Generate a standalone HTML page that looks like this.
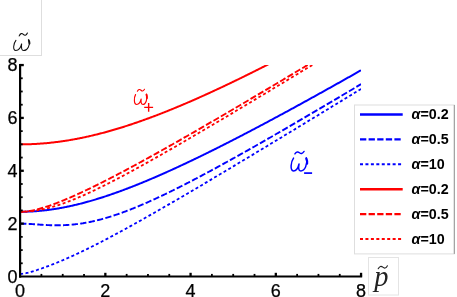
<!DOCTYPE html>
<html><head><meta charset="utf-8"><title>plot</title>
<style>
html,body{margin:0;padding:0;background:#fff;}
body{width:457px;height:297px;position:relative;overflow:hidden;font-family:"Liberation Sans",sans-serif;}
</style></head><body>
<svg width="457" height="297" viewBox="0 0 457 297" style="position:absolute;left:0;top:0;will-change:transform;">
<defs><clipPath id="cp"><rect x="20.10" y="65.06" width="340.96" height="211.44"/></clipPath></defs>
<rect x="-1" y="-1" width="42.5" height="56.5" fill="#fff" stroke="#dedede" stroke-width="1"/>
<rect x="368.5" y="257.5" width="30" height="37.5" fill="#fff" stroke="#e4e4e4" stroke-width="1"/>
<g clip-path="url(#cp)" fill="none" stroke-width="2.0">
<path d="M20.10,211.76 L20.95,211.76 L21.80,211.75 L22.66,211.74 L23.51,211.73 L24.36,211.72 L25.21,211.70 L26.07,211.68 L26.92,211.65 L27.77,211.62 L28.62,211.59 L29.48,211.55 L30.33,211.52 L31.18,211.47 L32.03,211.43 L32.89,211.38 L33.74,211.33 L34.59,211.27 L35.44,211.21 L36.30,211.15 L37.15,211.08 L38.00,211.01 L38.85,210.94 L39.71,210.86 L40.56,210.79 L41.41,210.70 L42.26,210.62 L43.11,210.53 L43.97,210.44 L44.82,210.34 L45.67,210.24 L46.52,210.14 L47.38,210.04 L48.23,209.93 L49.08,209.82 L49.93,209.70 L50.79,209.59 L51.64,209.46 L52.49,209.34 L53.34,209.21 L54.20,209.08 L55.05,208.95 L55.90,208.82 L56.75,208.68 L57.61,208.53 L58.46,208.39 L59.31,208.24 L60.16,208.09 L61.02,207.94 L61.87,207.78 L62.72,207.62 L63.57,207.46 L64.42,207.29 L65.28,207.12 L66.13,206.95 L66.98,206.78 L67.83,206.60 L68.69,206.42 L69.54,206.24 L70.39,206.06 L71.24,205.87 L72.10,205.68 L72.95,205.49 L73.80,205.29 L74.65,205.09 L75.51,204.89 L76.36,204.69 L77.21,204.48 L78.06,204.27 L78.92,204.06 L79.77,203.85 L80.62,203.63 L81.47,203.41 L82.33,203.19 L83.18,202.97 L84.03,202.74 L84.88,202.52 L85.73,202.28 L86.59,202.05 L87.44,201.82 L88.29,201.58 L89.14,201.34 L90.00,201.10 L90.85,200.85 L91.70,200.61 L92.55,200.36 L93.41,200.11 L94.26,199.85 L95.11,199.60 L95.96,199.34 L96.82,199.08 L97.67,198.82 L98.52,198.55 L99.37,198.29 L100.23,198.02 L101.08,197.75 L101.93,197.48 L102.78,197.20 L103.64,196.93 L104.49,196.65 L105.34,196.37 L106.19,196.09 L107.04,195.80 L107.90,195.52 L108.75,195.23 L109.60,194.94 L110.45,194.65 L111.31,194.35 L112.16,194.06 L113.01,193.76 L113.86,193.46 L114.72,193.16 L115.57,192.86 L116.42,192.56 L117.27,192.25 L118.13,191.95 L118.98,191.64 L119.83,191.33 L120.68,191.01 L121.54,190.70 L122.39,190.38 L123.24,190.07 L124.09,189.75 L124.95,189.43 L125.80,189.11 L126.65,188.78 L127.50,188.46 L128.35,188.13 L129.21,187.80 L130.06,187.48 L130.91,187.14 L131.76,186.81 L132.62,186.48 L133.47,186.14 L134.32,185.81 L135.17,185.47 L136.03,185.13 L136.88,184.79 L137.73,184.45 L138.58,184.10 L139.44,183.76 L140.29,183.41 L141.14,183.07 L141.99,182.72 L142.85,182.37 L143.70,182.02 L144.55,181.66 L145.40,181.31 L146.26,180.96 L147.11,180.60 L147.96,180.24 L148.81,179.88 L149.66,179.52 L150.52,179.16 L151.37,178.80 L152.22,178.44 L153.07,178.07 L153.93,177.71 L154.78,177.34 L155.63,176.97 L156.48,176.61 L157.34,176.24 L158.19,175.86 L159.04,175.49 L159.89,175.12 L160.75,174.74 L161.60,174.37 L162.45,173.99 L163.30,173.62 L164.16,173.24 L165.01,172.86 L165.86,172.48 L166.71,172.10 L167.57,171.71 L168.42,171.33 L169.27,170.95 L170.12,170.56 L170.97,170.18 L171.83,169.79 L172.68,169.40 L173.53,169.01 L174.38,168.62 L175.24,168.23 L176.09,167.84 L176.94,167.45 L177.79,167.05 L178.65,166.66 L179.50,166.26 L180.35,165.87 L181.20,165.47 L182.06,165.07 L182.91,164.67 L183.76,164.28 L184.61,163.87 L185.47,163.47 L186.32,163.07 L187.17,162.67 L188.02,162.27 L188.88,161.86 L189.73,161.46 L190.58,161.05 L191.43,160.64 L192.28,160.24 L193.14,159.83 L193.99,159.42 L194.84,159.01 L195.69,158.60 L196.55,158.19 L197.40,157.78 L198.25,157.37 L199.10,156.95 L199.96,156.54 L200.81,156.12 L201.66,155.71 L202.51,155.29 L203.37,154.88 L204.22,154.46 L205.07,154.04 L205.92,153.62 L206.78,153.20 L207.63,152.78 L208.48,152.36 L209.33,151.94 L210.19,151.52 L211.04,151.10 L211.89,150.68 L212.74,150.25 L213.59,149.83 L214.45,149.40 L215.30,148.98 L216.15,148.55 L217.00,148.13 L217.86,147.70 L218.71,147.27 L219.56,146.84 L220.41,146.41 L221.27,145.98 L222.12,145.55 L222.97,145.12 L223.82,144.69 L224.68,144.26 L225.53,143.83 L226.38,143.39 L227.23,142.96 L228.09,142.53 L228.94,142.09 L229.79,141.66 L230.64,141.22 L231.50,140.79 L232.35,140.35 L233.20,139.91 L234.05,139.48 L234.90,139.04 L235.76,138.60 L236.61,138.16 L237.46,137.72 L238.31,137.28 L239.17,136.84 L240.02,136.40 L240.87,135.96 L241.72,135.52 L242.58,135.07 L243.43,134.63 L244.28,134.19 L245.13,133.74 L245.99,133.30 L246.84,132.85 L247.69,132.41 L248.54,131.96 L249.40,131.52 L250.25,131.07 L251.10,130.62 L251.95,130.18 L252.81,129.73 L253.66,129.28 L254.51,128.83 L255.36,128.38 L256.21,127.93 L257.07,127.49 L257.92,127.03 L258.77,126.58 L259.62,126.13 L260.48,125.68 L261.33,125.23 L262.18,124.78 L263.03,124.33 L263.89,123.87 L264.74,123.42 L265.59,122.97 L266.44,122.51 L267.30,122.06 L268.15,121.60 L269.00,121.15 L269.85,120.69 L270.71,120.23 L271.56,119.78 L272.41,119.32 L273.26,118.86 L274.12,118.41 L274.97,117.95 L275.82,117.49 L276.67,117.03 L277.52,116.57 L278.38,116.12 L279.23,115.66 L280.08,115.20 L280.93,114.74 L281.79,114.28 L282.64,113.81 L283.49,113.35 L284.34,112.89 L285.20,112.43 L286.05,111.97 L286.90,111.51 L287.75,111.04 L288.61,110.58 L289.46,110.12 L290.31,109.65 L291.16,109.19 L292.02,108.72 L292.87,108.26 L293.72,107.79 L294.57,107.33 L295.43,106.86 L296.28,106.40 L297.13,105.93 L297.98,105.47 L298.83,105.00 L299.69,104.53 L300.54,104.06 L301.39,103.60 L302.24,103.13 L303.10,102.66 L303.95,102.19 L304.80,101.72 L305.65,101.25 L306.51,100.79 L307.36,100.32 L308.21,99.85 L309.06,99.38 L309.92,98.91 L310.77,98.44 L311.62,97.96 L312.47,97.49 L313.33,97.02 L314.18,96.55 L315.03,96.08 L315.88,95.61 L316.74,95.13 L317.59,94.66 L318.44,94.19 L319.29,93.72 L320.14,93.24 L321.00,92.77 L321.85,92.29 L322.70,91.82 L323.55,91.35 L324.41,90.87 L325.26,90.40 L326.11,89.92 L326.96,89.45 L327.82,88.97 L328.67,88.49 L329.52,88.02 L330.37,87.54 L331.23,87.07 L332.08,86.59 L332.93,86.11 L333.78,85.64 L334.64,85.16 L335.49,84.68 L336.34,84.20 L337.19,83.72 L338.05,83.25 L338.90,82.77 L339.75,82.29 L340.60,81.81 L341.45,81.33 L342.31,80.85 L343.16,80.37 L344.01,79.89 L344.86,79.41 L345.72,78.93 L346.57,78.45 L347.42,77.97 L348.27,77.49 L349.13,77.01 L349.98,76.53 L350.83,76.05 L351.68,75.57 L352.54,75.09 L353.39,74.60 L354.24,74.12 L355.09,73.64 L355.95,73.16 L356.80,72.67 L357.65,72.19 L358.50,71.71 L359.36,71.22 L360.21,70.74 L361.06,70.26" stroke="#0000ff" stroke-width="2.0"/>
<path d="M20.10,223.64 L20.95,223.64 L21.80,223.65 L22.66,223.66 L23.51,223.68 L24.36,223.70 L25.21,223.73 L26.07,223.76 L26.92,223.80 L27.77,223.84 L28.62,223.89 L29.48,223.93 L30.33,223.98 L31.18,224.03 L32.03,224.09 L32.89,224.15 L33.74,224.20 L34.59,224.26 L35.44,224.32 L36.30,224.38 L37.15,224.44 L38.00,224.50 L38.85,224.56 L39.71,224.62 L40.56,224.68 L41.41,224.74 L42.26,224.79 L43.11,224.84 L43.97,224.90 L44.82,224.95 L45.67,224.99 L46.52,225.04 L47.38,225.08 L48.23,225.12 L49.08,225.15 L49.93,225.19 L50.79,225.21 L51.64,225.24 L52.49,225.26 L53.34,225.28 L54.20,225.30 L55.05,225.31 L55.90,225.32 L56.75,225.32 L57.61,225.32 L58.46,225.31 L59.31,225.30 L60.16,225.29 L61.02,225.27 L61.87,225.25 L62.72,225.22 L63.57,225.19 L64.42,225.16 L65.28,225.12 L66.13,225.07 L66.98,225.02 L67.83,224.97 L68.69,224.91 L69.54,224.85 L70.39,224.78 L71.24,224.71 L72.10,224.63 L72.95,224.55 L73.80,224.46 L74.65,224.37 L75.51,224.28 L76.36,224.18 L77.21,224.07 L78.06,223.96 L78.92,223.85 L79.77,223.73 L80.62,223.60 L81.47,223.48 L82.33,223.34 L83.18,223.21 L84.03,223.06 L84.88,222.92 L85.73,222.77 L86.59,222.61 L87.44,222.45 L88.29,222.29 L89.14,222.12 L90.00,221.95 L90.85,221.77 L91.70,221.59 L92.55,221.40 L93.41,221.21 L94.26,221.02 L95.11,220.82 L95.96,220.62 L96.82,220.41 L97.67,220.20 L98.52,219.99 L99.37,219.77 L100.23,219.55 L101.08,219.32 L101.93,219.09 L102.78,218.86 L103.64,218.62 L104.49,218.38 L105.34,218.13 L106.19,217.88 L107.04,217.63 L107.90,217.38 L108.75,217.12 L109.60,216.86 L110.45,216.59 L111.31,216.32 L112.16,216.05 L113.01,215.77 L113.86,215.49 L114.72,215.21 L115.57,214.93 L116.42,214.64 L117.27,214.35 L118.13,214.05 L118.98,213.76 L119.83,213.45 L120.68,213.15 L121.54,212.85 L122.39,212.54 L123.24,212.22 L124.09,211.91 L124.95,211.59 L125.80,211.27 L126.65,210.95 L127.50,210.63 L128.35,210.30 L129.21,209.97 L130.06,209.63 L130.91,209.30 L131.76,208.96 L132.62,208.62 L133.47,208.28 L134.32,207.94 L135.17,207.59 L136.03,207.24 L136.88,206.89 L137.73,206.53 L138.58,206.18 L139.44,205.82 L140.29,205.46 L141.14,205.10 L141.99,204.73 L142.85,204.37 L143.70,204.00 L144.55,203.63 L145.40,203.26 L146.26,202.89 L147.11,202.51 L147.96,202.13 L148.81,201.75 L149.66,201.37 L150.52,200.99 L151.37,200.61 L152.22,200.22 L153.07,199.83 L153.93,199.44 L154.78,199.05 L155.63,198.66 L156.48,198.26 L157.34,197.87 L158.19,197.47 L159.04,197.07 L159.89,196.67 L160.75,196.27 L161.60,195.87 L162.45,195.46 L163.30,195.06 L164.16,194.65 L165.01,194.24 L165.86,193.83 L166.71,193.42 L167.57,193.01 L168.42,192.59 L169.27,192.18 L170.12,191.76 L170.97,191.34 L171.83,190.92 L172.68,190.50 L173.53,190.08 L174.38,189.66 L175.24,189.24 L176.09,188.81 L176.94,188.39 L177.79,187.96 L178.65,187.53 L179.50,187.10 L180.35,186.67 L181.20,186.24 L182.06,185.81 L182.91,185.37 L183.76,184.94 L184.61,184.51 L185.47,184.07 L186.32,183.63 L187.17,183.19 L188.02,182.76 L188.88,182.32 L189.73,181.88 L190.58,181.43 L191.43,180.99 L192.28,180.55 L193.14,180.10 L193.99,179.66 L194.84,179.21 L195.69,178.77 L196.55,178.32 L197.40,177.87 L198.25,177.42 L199.10,176.97 L199.96,176.52 L200.81,176.07 L201.66,175.62 L202.51,175.17 L203.37,174.71 L204.22,174.26 L205.07,173.80 L205.92,173.35 L206.78,172.89 L207.63,172.43 L208.48,171.98 L209.33,171.52 L210.19,171.06 L211.04,170.60 L211.89,170.14 L212.74,169.68 L213.59,169.22 L214.45,168.75 L215.30,168.29 L216.15,167.83 L217.00,167.36 L217.86,166.90 L218.71,166.44 L219.56,165.97 L220.41,165.50 L221.27,165.04 L222.12,164.57 L222.97,164.10 L223.82,163.63 L224.68,163.16 L225.53,162.70 L226.38,162.23 L227.23,161.76 L228.09,161.28 L228.94,160.81 L229.79,160.34 L230.64,159.87 L231.50,159.40 L232.35,158.92 L233.20,158.45 L234.05,157.97 L234.90,157.50 L235.76,157.02 L236.61,156.55 L237.46,156.07 L238.31,155.60 L239.17,155.12 L240.02,154.64 L240.87,154.17 L241.72,153.69 L242.58,153.21 L243.43,152.73 L244.28,152.25 L245.13,151.77 L245.99,151.29 L246.84,150.81 L247.69,150.33 L248.54,149.85 L249.40,149.37 L250.25,148.88 L251.10,148.40 L251.95,147.92 L252.81,147.44 L253.66,146.95 L254.51,146.47 L255.36,145.99 L256.21,145.50 L257.07,145.02 L257.92,144.53 L258.77,144.05 L259.62,143.56 L260.48,143.07 L261.33,142.59 L262.18,142.10 L263.03,141.61 L263.89,141.13 L264.74,140.64 L265.59,140.15 L266.44,139.66 L267.30,139.17 L268.15,138.68 L269.00,138.20 L269.85,137.71 L270.71,137.22 L271.56,136.73 L272.41,136.24 L273.26,135.75 L274.12,135.25 L274.97,134.76 L275.82,134.27 L276.67,133.78 L277.52,133.29 L278.38,132.80 L279.23,132.30 L280.08,131.81 L280.93,131.32 L281.79,130.83 L282.64,130.33 L283.49,129.84 L284.34,129.34 L285.20,128.85 L286.05,128.36 L286.90,127.86 L287.75,127.37 L288.61,126.87 L289.46,126.38 L290.31,125.88 L291.16,125.39 L292.02,124.89 L292.87,124.39 L293.72,123.90 L294.57,123.40 L295.43,122.90 L296.28,122.41 L297.13,121.91 L297.98,121.41 L298.83,120.91 L299.69,120.42 L300.54,119.92 L301.39,119.42 L302.24,118.92 L303.10,118.42 L303.95,117.92 L304.80,117.43 L305.65,116.93 L306.51,116.43 L307.36,115.93 L308.21,115.43 L309.06,114.93 L309.92,114.43 L310.77,113.93 L311.62,113.43 L312.47,112.93 L313.33,112.43 L314.18,111.92 L315.03,111.42 L315.88,110.92 L316.74,110.42 L317.59,109.92 L318.44,109.42 L319.29,108.91 L320.14,108.41 L321.00,107.91 L321.85,107.41 L322.70,106.90 L323.55,106.40 L324.41,105.90 L325.26,105.40 L326.11,104.89 L326.96,104.39 L327.82,103.89 L328.67,103.38 L329.52,102.88 L330.37,102.37 L331.23,101.87 L332.08,101.37 L332.93,100.86 L333.78,100.36 L334.64,99.85 L335.49,99.35 L336.34,98.84 L337.19,98.34 L338.05,97.83 L338.90,97.33 L339.75,96.82 L340.60,96.32 L341.45,95.81 L342.31,95.30 L343.16,94.80 L344.01,94.29 L344.86,93.79 L345.72,93.28 L346.57,92.77 L347.42,92.27 L348.27,91.76 L349.13,91.25 L349.98,90.75 L350.83,90.24 L351.68,89.73 L352.54,89.22 L353.39,88.72 L354.24,88.21 L355.09,87.70 L355.95,87.19 L356.80,86.68 L357.65,86.18 L358.50,85.67 L359.36,85.16 L360.21,84.65 L361.06,84.14" stroke="#0000ff" stroke-width="1.9" stroke-dasharray="6.3 2.3"/>
<path d="M20.10,273.86 L20.95,273.84 L21.80,273.79 L22.66,273.72 L23.51,273.61 L24.36,273.48 L25.21,273.33 L26.07,273.16 L26.92,272.97 L27.77,272.77 L28.62,272.56 L29.48,272.34 L30.33,272.10 L31.18,271.86 L32.03,271.61 L32.89,271.36 L33.74,271.10 L34.59,270.83 L35.44,270.56 L36.30,270.29 L37.15,270.01 L38.00,269.72 L38.85,269.44 L39.71,269.15 L40.56,268.85 L41.41,268.56 L42.26,268.26 L43.11,267.95 L43.97,267.65 L44.82,267.34 L45.67,267.03 L46.52,266.71 L47.38,266.39 L48.23,266.07 L49.08,265.75 L49.93,265.42 L50.79,265.10 L51.64,264.76 L52.49,264.43 L53.34,264.09 L54.20,263.76 L55.05,263.42 L55.90,263.07 L56.75,262.73 L57.61,262.38 L58.46,262.03 L59.31,261.67 L60.16,261.32 L61.02,260.96 L61.87,260.60 L62.72,260.24 L63.57,259.87 L64.42,259.50 L65.28,259.13 L66.13,258.76 L66.98,258.39 L67.83,258.01 L68.69,257.63 L69.54,257.25 L70.39,256.87 L71.24,256.49 L72.10,256.10 L72.95,255.71 L73.80,255.32 L74.65,254.93 L75.51,254.53 L76.36,254.14 L77.21,253.74 L78.06,253.34 L78.92,252.94 L79.77,252.53 L80.62,252.13 L81.47,251.72 L82.33,251.31 L83.18,250.90 L84.03,250.49 L84.88,250.08 L85.73,249.66 L86.59,249.25 L87.44,248.83 L88.29,248.41 L89.14,247.99 L90.00,247.56 L90.85,247.14 L91.70,246.71 L92.55,246.28 L93.41,245.86 L94.26,245.43 L95.11,244.99 L95.96,244.56 L96.82,244.13 L97.67,243.69 L98.52,243.26 L99.37,242.82 L100.23,242.38 L101.08,241.94 L101.93,241.50 L102.78,241.06 L103.64,240.61 L104.49,240.17 L105.34,239.72 L106.19,239.27 L107.04,238.83 L107.90,238.38 L108.75,237.93 L109.60,237.48 L110.45,237.02 L111.31,236.57 L112.16,236.12 L113.01,235.66 L113.86,235.21 L114.72,234.75 L115.57,234.29 L116.42,233.83 L117.27,233.37 L118.13,232.91 L118.98,232.45 L119.83,231.99 L120.68,231.53 L121.54,231.06 L122.39,230.60 L123.24,230.13 L124.09,229.67 L124.95,229.20 L125.80,228.73 L126.65,228.26 L127.50,227.79 L128.35,227.32 L129.21,226.85 L130.06,226.38 L130.91,225.91 L131.76,225.44 L132.62,224.97 L133.47,224.49 L134.32,224.02 L135.17,223.54 L136.03,223.07 L136.88,222.59 L137.73,222.11 L138.58,221.64 L139.44,221.16 L140.29,220.68 L141.14,220.20 L141.99,219.72 L142.85,219.24 L143.70,218.76 L144.55,218.28 L145.40,217.80 L146.26,217.32 L147.11,216.83 L147.96,216.35 L148.81,215.87 L149.66,215.38 L150.52,214.90 L151.37,214.41 L152.22,213.93 L153.07,213.44 L153.93,212.95 L154.78,212.47 L155.63,211.98 L156.48,211.49 L157.34,211.00 L158.19,210.52 L159.04,210.03 L159.89,209.54 L160.75,209.05 L161.60,208.56 L162.45,208.07 L163.30,207.58 L164.16,207.08 L165.01,206.59 L165.86,206.10 L166.71,205.61 L167.57,205.12 L168.42,204.62 L169.27,204.13 L170.12,203.64 L170.97,203.14 L171.83,202.65 L172.68,202.15 L173.53,201.66 L174.38,201.16 L175.24,200.67 L176.09,200.17 L176.94,199.67 L177.79,199.18 L178.65,198.68 L179.50,198.18 L180.35,197.69 L181.20,197.19 L182.06,196.69 L182.91,196.19 L183.76,195.69 L184.61,195.19 L185.47,194.69 L186.32,194.19 L187.17,193.70 L188.02,193.20 L188.88,192.69 L189.73,192.19 L190.58,191.69 L191.43,191.19 L192.28,190.69 L193.14,190.19 L193.99,189.69 L194.84,189.19 L195.69,188.68 L196.55,188.18 L197.40,187.68 L198.25,187.18 L199.10,186.67 L199.96,186.17 L200.81,185.67 L201.66,185.16 L202.51,184.66 L203.37,184.16 L204.22,183.65 L205.07,183.15 L205.92,182.64 L206.78,182.14 L207.63,181.63 L208.48,181.13 L209.33,180.62 L210.19,180.12 L211.04,179.61 L211.89,179.10 L212.74,178.60 L213.59,178.09 L214.45,177.59 L215.30,177.08 L216.15,176.57 L217.00,176.06 L217.86,175.56 L218.71,175.05 L219.56,174.54 L220.41,174.04 L221.27,173.53 L222.12,173.02 L222.97,172.51 L223.82,172.00 L224.68,171.49 L225.53,170.99 L226.38,170.48 L227.23,169.97 L228.09,169.46 L228.94,168.95 L229.79,168.44 L230.64,167.93 L231.50,167.42 L232.35,166.91 L233.20,166.40 L234.05,165.89 L234.90,165.38 L235.76,164.87 L236.61,164.36 L237.46,163.85 L238.31,163.34 L239.17,162.83 L240.02,162.32 L240.87,161.81 L241.72,161.30 L242.58,160.78 L243.43,160.27 L244.28,159.76 L245.13,159.25 L245.99,158.74 L246.84,158.23 L247.69,157.71 L248.54,157.20 L249.40,156.69 L250.25,156.18 L251.10,155.66 L251.95,155.15 L252.81,154.64 L253.66,154.13 L254.51,153.61 L255.36,153.10 L256.21,152.59 L257.07,152.07 L257.92,151.56 L258.77,151.05 L259.62,150.53 L260.48,150.02 L261.33,149.51 L262.18,148.99 L263.03,148.48 L263.89,147.96 L264.74,147.45 L265.59,146.94 L266.44,146.42 L267.30,145.91 L268.15,145.39 L269.00,144.88 L269.85,144.36 L270.71,143.85 L271.56,143.33 L272.41,142.82 L273.26,142.30 L274.12,141.79 L274.97,141.27 L275.82,140.76 L276.67,140.24 L277.52,139.73 L278.38,139.21 L279.23,138.70 L280.08,138.18 L280.93,137.66 L281.79,137.15 L282.64,136.63 L283.49,136.12 L284.34,135.60 L285.20,135.08 L286.05,134.57 L286.90,134.05 L287.75,133.54 L288.61,133.02 L289.46,132.50 L290.31,131.99 L291.16,131.47 L292.02,130.95 L292.87,130.44 L293.72,129.92 L294.57,129.40 L295.43,128.88 L296.28,128.37 L297.13,127.85 L297.98,127.33 L298.83,126.82 L299.69,126.30 L300.54,125.78 L301.39,125.26 L302.24,124.75 L303.10,124.23 L303.95,123.71 L304.80,123.19 L305.65,122.68 L306.51,122.16 L307.36,121.64 L308.21,121.12 L309.06,120.60 L309.92,120.09 L310.77,119.57 L311.62,119.05 L312.47,118.53 L313.33,118.01 L314.18,117.49 L315.03,116.98 L315.88,116.46 L316.74,115.94 L317.59,115.42 L318.44,114.90 L319.29,114.38 L320.14,113.86 L321.00,113.35 L321.85,112.83 L322.70,112.31 L323.55,111.79 L324.41,111.27 L325.26,110.75 L326.11,110.23 L326.96,109.71 L327.82,109.19 L328.67,108.67 L329.52,108.15 L330.37,107.64 L331.23,107.12 L332.08,106.60 L332.93,106.08 L333.78,105.56 L334.64,105.04 L335.49,104.52 L336.34,104.00 L337.19,103.48 L338.05,102.96 L338.90,102.44 L339.75,101.92 L340.60,101.40 L341.45,100.88 L342.31,100.36 L343.16,99.84 L344.01,99.32 L344.86,98.80 L345.72,98.28 L346.57,97.76 L347.42,97.24 L348.27,96.72 L349.13,96.20 L349.98,95.68 L350.83,95.16 L351.68,94.64 L352.54,94.12 L353.39,93.60 L354.24,93.07 L355.09,92.55 L355.95,92.03 L356.80,91.51 L357.65,90.99 L358.50,90.47 L359.36,89.95 L360.21,89.43 L361.06,88.91" stroke="#0000ff" stroke-width="1.8" stroke-dasharray="3.0 2.44"/>
<path d="M20.10,144.35 L20.95,144.35 L21.80,144.34 L22.66,144.34 L23.51,144.33 L24.36,144.32 L25.21,144.30 L26.07,144.29 L26.92,144.27 L27.77,144.25 L28.62,144.22 L29.48,144.20 L30.33,144.17 L31.18,144.13 L32.03,144.10 L32.89,144.06 L33.74,144.02 L34.59,143.98 L35.44,143.94 L36.30,143.89 L37.15,143.84 L38.00,143.79 L38.85,143.73 L39.71,143.68 L40.56,143.62 L41.41,143.55 L42.26,143.49 L43.11,143.42 L43.97,143.35 L44.82,143.28 L45.67,143.20 L46.52,143.13 L47.38,143.05 L48.23,142.96 L49.08,142.88 L49.93,142.79 L50.79,142.70 L51.64,142.61 L52.49,142.52 L53.34,142.42 L54.20,142.32 L55.05,142.22 L55.90,142.11 L56.75,142.01 L57.61,141.90 L58.46,141.79 L59.31,141.67 L60.16,141.56 L61.02,141.44 L61.87,141.32 L62.72,141.19 L63.57,141.07 L64.42,140.94 L65.28,140.81 L66.13,140.68 L66.98,140.54 L67.83,140.40 L68.69,140.27 L69.54,140.12 L70.39,139.98 L71.24,139.83 L72.10,139.68 L72.95,139.53 L73.80,139.38 L74.65,139.22 L75.51,139.07 L76.36,138.91 L77.21,138.74 L78.06,138.58 L78.92,138.41 L79.77,138.24 L80.62,138.07 L81.47,137.90 L82.33,137.72 L83.18,137.55 L84.03,137.37 L84.88,137.18 L85.73,137.00 L86.59,136.81 L87.44,136.63 L88.29,136.43 L89.14,136.24 L90.00,136.05 L90.85,135.85 L91.70,135.65 L92.55,135.45 L93.41,135.25 L94.26,135.04 L95.11,134.84 L95.96,134.63 L96.82,134.42 L97.67,134.20 L98.52,133.99 L99.37,133.77 L100.23,133.55 L101.08,133.33 L101.93,133.11 L102.78,132.89 L103.64,132.66 L104.49,132.43 L105.34,132.20 L106.19,131.97 L107.04,131.74 L107.90,131.50 L108.75,131.26 L109.60,131.02 L110.45,130.78 L111.31,130.54 L112.16,130.29 L113.01,130.05 L113.86,129.80 L114.72,129.55 L115.57,129.29 L116.42,129.04 L117.27,128.78 L118.13,128.53 L118.98,128.27 L119.83,128.01 L120.68,127.74 L121.54,127.48 L122.39,127.21 L123.24,126.95 L124.09,126.68 L124.95,126.41 L125.80,126.13 L126.65,125.86 L127.50,125.58 L128.35,125.31 L129.21,125.03 L130.06,124.75 L130.91,124.46 L131.76,124.18 L132.62,123.89 L133.47,123.61 L134.32,123.32 L135.17,123.03 L136.03,122.74 L136.88,122.44 L137.73,122.15 L138.58,121.85 L139.44,121.56 L140.29,121.26 L141.14,120.96 L141.99,120.66 L142.85,120.35 L143.70,120.05 L144.55,119.74 L145.40,119.43 L146.26,119.12 L147.11,118.81 L147.96,118.50 L148.81,118.19 L149.66,117.87 L150.52,117.56 L151.37,117.24 L152.22,116.92 L153.07,116.60 L153.93,116.28 L154.78,115.96 L155.63,115.64 L156.48,115.31 L157.34,114.98 L158.19,114.66 L159.04,114.33 L159.89,114.00 L160.75,113.67 L161.60,113.33 L162.45,113.00 L163.30,112.66 L164.16,112.33 L165.01,111.99 L165.86,111.65 L166.71,111.31 L167.57,110.97 L168.42,110.63 L169.27,110.28 L170.12,109.94 L170.97,109.59 L171.83,109.25 L172.68,108.90 L173.53,108.55 L174.38,108.20 L175.24,107.85 L176.09,107.50 L176.94,107.14 L177.79,106.79 L178.65,106.43 L179.50,106.07 L180.35,105.72 L181.20,105.36 L182.06,105.00 L182.91,104.64 L183.76,104.28 L184.61,103.91 L185.47,103.55 L186.32,103.18 L187.17,102.82 L188.02,102.45 L188.88,102.08 L189.73,101.71 L190.58,101.34 L191.43,100.97 L192.28,100.60 L193.14,100.23 L193.99,99.85 L194.84,99.48 L195.69,99.10 L196.55,98.73 L197.40,98.35 L198.25,97.97 L199.10,97.59 L199.96,97.21 L200.81,96.83 L201.66,96.45 L202.51,96.07 L203.37,95.68 L204.22,95.30 L205.07,94.91 L205.92,94.53 L206.78,94.14 L207.63,93.75 L208.48,93.36 L209.33,92.97 L210.19,92.58 L211.04,92.19 L211.89,91.80 L212.74,91.41 L213.59,91.01 L214.45,90.62 L215.30,90.22 L216.15,89.83 L217.00,89.43 L217.86,89.03 L218.71,88.64 L219.56,88.24 L220.41,87.84 L221.27,87.44 L222.12,87.03 L222.97,86.63 L223.82,86.23 L224.68,85.83 L225.53,85.42 L226.38,85.02 L227.23,84.61 L228.09,84.21 L228.94,83.80 L229.79,83.39 L230.64,82.98 L231.50,82.57 L232.35,82.16 L233.20,81.75 L234.05,81.34 L234.90,80.93 L235.76,80.52 L236.61,80.11 L237.46,79.69 L238.31,79.28 L239.17,78.86 L240.02,78.45 L240.87,78.03 L241.72,77.61 L242.58,77.20 L243.43,76.78 L244.28,76.36 L245.13,75.94 L245.99,75.52 L246.84,75.10 L247.69,74.68 L248.54,74.26 L249.40,73.84 L250.25,73.41 L251.10,72.99 L251.95,72.56 L252.81,72.14 L253.66,71.72 L254.51,71.29 L255.36,70.86 L256.21,70.44 L257.07,70.01 L257.92,69.58 L258.77,69.15 L259.62,68.72 L260.48,68.29 L261.33,67.86 L262.18,67.43 L263.03,67.00 L263.89,66.57 L264.74,66.14 L265.59,65.71 L266.44,65.27 L267.30,64.84 L268.15,64.41 L269.00,63.97 L269.85,63.54 L270.71,63.10 L271.56,62.66 L272.41,62.23 L273.26,61.79 L274.12,61.35 L274.97,60.91 L275.82,60.48 L276.67,60.04 L277.52,59.60 L278.38,59.16 L279.23,58.72 L280.08,58.28 L280.93,57.84 L281.79,57.39 L282.64,56.95 L283.49,56.51 L284.34,56.07 L285.20,55.62 L286.05,55.18 L286.90,54.73 L287.75,54.29 L288.61,53.84 L289.46,53.40 L290.31,52.95 L291.16,52.51 L292.02,52.06 L292.87,51.61 L293.72,51.16 L294.57,50.72 L295.43,50.27 L296.28,49.82 L297.13,49.37 L297.98,48.92 L298.83,48.47 L299.69,48.02 L300.54,47.57 L301.39,47.12 L302.24,46.67 L303.10,46.21 L303.95,45.76 L304.80,45.31 L305.65,44.86 L306.51,44.40 L307.36,43.95 L308.21,43.49 L309.06,43.04 L309.92,42.58 L310.77,42.13 L311.62,41.67 L312.47,41.22 L313.33,40.76 L314.18,40.30 L315.03,39.85 L315.88,39.39 L316.74,38.93 L317.59,38.47 L318.44,38.02 L319.29,37.56 L320.14,37.10 L321.00,36.64 L321.85,36.18 L322.70,35.72 L323.55,35.26 L324.41,34.80 L325.26,34.34 L326.11,33.88 L326.96,33.41 L327.82,32.95 L328.67,32.49 L329.52,32.03 L330.37,31.56 L331.23,31.10 L332.08,30.64 L332.93,30.17 L333.78,29.71 L334.64,29.25 L335.49,28.78 L336.34,28.32 L337.19,27.85 L338.05,27.39 L338.90,26.92 L339.75,26.45 L340.60,25.99 L341.45,25.52 L342.31,25.05 L343.16,24.59 L344.01,24.12 L344.86,23.65 L345.72,23.18 L346.57,22.71 L347.42,22.25 L348.27,21.78 L349.13,21.31 L349.98,20.84 L350.83,20.37 L351.68,19.90 L352.54,19.43 L353.39,18.96 L354.24,18.49 L355.09,18.02 L355.95,17.55 L356.80,17.07 L357.65,16.60 L358.50,16.13 L359.36,15.66 L360.21,15.19 L361.06,14.71" stroke="#ff0000" stroke-width="2.0"/>
<path d="M20.10,211.76 L20.95,211.75 L21.80,211.73 L22.66,211.70 L23.51,211.66 L24.36,211.60 L25.21,211.53 L26.07,211.45 L26.92,211.35 L27.77,211.25 L28.62,211.13 L29.48,211.00 L30.33,210.87 L31.18,210.72 L32.03,210.56 L32.89,210.39 L33.74,210.22 L34.59,210.03 L35.44,209.84 L36.30,209.63 L37.15,209.42 L38.00,209.21 L38.85,208.98 L39.71,208.75 L40.56,208.51 L41.41,208.27 L42.26,208.02 L43.11,207.76 L43.97,207.50 L44.82,207.24 L45.67,206.96 L46.52,206.69 L47.38,206.40 L48.23,206.12 L49.08,205.83 L49.93,205.53 L50.79,205.23 L51.64,204.93 L52.49,204.62 L53.34,204.30 L54.20,203.99 L55.05,203.67 L55.90,203.35 L56.75,203.02 L57.61,202.69 L58.46,202.36 L59.31,202.02 L60.16,201.68 L61.02,201.34 L61.87,201.00 L62.72,200.65 L63.57,200.30 L64.42,199.95 L65.28,199.59 L66.13,199.23 L66.98,198.87 L67.83,198.51 L68.69,198.14 L69.54,197.78 L70.39,197.41 L71.24,197.03 L72.10,196.66 L72.95,196.28 L73.80,195.90 L74.65,195.52 L75.51,195.14 L76.36,194.76 L77.21,194.37 L78.06,193.98 L78.92,193.59 L79.77,193.20 L80.62,192.81 L81.47,192.41 L82.33,192.01 L83.18,191.62 L84.03,191.22 L84.88,190.81 L85.73,190.41 L86.59,190.01 L87.44,189.60 L88.29,189.19 L89.14,188.78 L90.00,188.37 L90.85,187.96 L91.70,187.54 L92.55,187.13 L93.41,186.71 L94.26,186.29 L95.11,185.88 L95.96,185.46 L96.82,185.03 L97.67,184.61 L98.52,184.19 L99.37,183.76 L100.23,183.34 L101.08,182.91 L101.93,182.48 L102.78,182.05 L103.64,181.62 L104.49,181.19 L105.34,180.76 L106.19,180.32 L107.04,179.89 L107.90,179.45 L108.75,179.01 L109.60,178.58 L110.45,178.14 L111.31,177.70 L112.16,177.26 L113.01,176.81 L113.86,176.37 L114.72,175.93 L115.57,175.48 L116.42,175.04 L117.27,174.59 L118.13,174.15 L118.98,173.70 L119.83,173.25 L120.68,172.80 L121.54,172.35 L122.39,171.90 L123.24,171.45 L124.09,170.99 L124.95,170.54 L125.80,170.09 L126.65,169.63 L127.50,169.18 L128.35,168.72 L129.21,168.26 L130.06,167.81 L130.91,167.35 L131.76,166.89 L132.62,166.43 L133.47,165.97 L134.32,165.51 L135.17,165.05 L136.03,164.59 L136.88,164.12 L137.73,163.66 L138.58,163.20 L139.44,162.73 L140.29,162.27 L141.14,161.80 L141.99,161.34 L142.85,160.87 L143.70,160.40 L144.55,159.93 L145.40,159.47 L146.26,159.00 L147.11,158.53 L147.96,158.06 L148.81,157.59 L149.66,157.12 L150.52,156.64 L151.37,156.17 L152.22,155.70 L153.07,155.23 L153.93,154.75 L154.78,154.28 L155.63,153.81 L156.48,153.33 L157.34,152.86 L158.19,152.38 L159.04,151.90 L159.89,151.43 L160.75,150.95 L161.60,150.47 L162.45,149.99 L163.30,149.52 L164.16,149.04 L165.01,148.56 L165.86,148.08 L166.71,147.60 L167.57,147.12 L168.42,146.64 L169.27,146.16 L170.12,145.68 L170.97,145.19 L171.83,144.71 L172.68,144.23 L173.53,143.75 L174.38,143.26 L175.24,142.78 L176.09,142.29 L176.94,141.81 L177.79,141.33 L178.65,140.84 L179.50,140.36 L180.35,139.87 L181.20,139.38 L182.06,138.90 L182.91,138.41 L183.76,137.92 L184.61,137.44 L185.47,136.95 L186.32,136.46 L187.17,135.97 L188.02,135.48 L188.88,135.00 L189.73,134.51 L190.58,134.02 L191.43,133.53 L192.28,133.04 L193.14,132.55 L193.99,132.06 L194.84,131.57 L195.69,131.08 L196.55,130.58 L197.40,130.09 L198.25,129.60 L199.10,129.11 L199.96,128.62 L200.81,128.12 L201.66,127.63 L202.51,127.14 L203.37,126.64 L204.22,126.15 L205.07,125.66 L205.92,125.16 L206.78,124.67 L207.63,124.17 L208.48,123.68 L209.33,123.18 L210.19,122.69 L211.04,122.19 L211.89,121.70 L212.74,121.20 L213.59,120.71 L214.45,120.21 L215.30,119.71 L216.15,119.22 L217.00,118.72 L217.86,118.22 L218.71,117.72 L219.56,117.23 L220.41,116.73 L221.27,116.23 L222.12,115.73 L222.97,115.23 L223.82,114.74 L224.68,114.24 L225.53,113.74 L226.38,113.24 L227.23,112.74 L228.09,112.24 L228.94,111.74 L229.79,111.24 L230.64,110.74 L231.50,110.24 L232.35,109.74 L233.20,109.24 L234.05,108.74 L234.90,108.24 L235.76,107.73 L236.61,107.23 L237.46,106.73 L238.31,106.23 L239.17,105.73 L240.02,105.23 L240.87,104.72 L241.72,104.22 L242.58,103.72 L243.43,103.22 L244.28,102.71 L245.13,102.21 L245.99,101.71 L246.84,101.20 L247.69,100.70 L248.54,100.20 L249.40,99.69 L250.25,99.19 L251.10,98.69 L251.95,98.18 L252.81,97.68 L253.66,97.17 L254.51,96.67 L255.36,96.16 L256.21,95.66 L257.07,95.15 L257.92,94.65 L258.77,94.14 L259.62,93.64 L260.48,93.13 L261.33,92.63 L262.18,92.12 L263.03,91.62 L263.89,91.11 L264.74,90.60 L265.59,90.10 L266.44,89.59 L267.30,89.08 L268.15,88.58 L269.00,88.07 L269.85,87.56 L270.71,87.06 L271.56,86.55 L272.41,86.04 L273.26,85.53 L274.12,85.03 L274.97,84.52 L275.82,84.01 L276.67,83.50 L277.52,83.00 L278.38,82.49 L279.23,81.98 L280.08,81.47 L280.93,80.96 L281.79,80.45 L282.64,79.95 L283.49,79.44 L284.34,78.93 L285.20,78.42 L286.05,77.91 L286.90,77.40 L287.75,76.89 L288.61,76.38 L289.46,75.87 L290.31,75.36 L291.16,74.85 L292.02,74.34 L292.87,73.83 L293.72,73.32 L294.57,72.81 L295.43,72.30 L296.28,71.79 L297.13,71.28 L297.98,70.77 L298.83,70.26 L299.69,69.75 L300.54,69.24 L301.39,68.73 L302.24,68.22 L303.10,67.71 L303.95,67.20 L304.80,66.69 L305.65,66.17 L306.51,65.66 L307.36,65.15 L308.21,64.64 L309.06,64.13 L309.92,63.62 L310.77,63.10 L311.62,62.59 L312.47,62.08 L313.33,61.57 L314.18,61.06 L315.03,60.54 L315.88,60.03 L316.74,59.52 L317.59,59.01 L318.44,58.50 L319.29,57.98 L320.14,57.47 L321.00,56.96 L321.85,56.44 L322.70,55.93 L323.55,55.42 L324.41,54.91 L325.26,54.39 L326.11,53.88 L326.96,53.37 L327.82,52.85 L328.67,52.34 L329.52,51.83 L330.37,51.31 L331.23,50.80 L332.08,50.29 L332.93,49.77 L333.78,49.26 L334.64,48.74 L335.49,48.23 L336.34,47.72 L337.19,47.20 L338.05,46.69 L338.90,46.17 L339.75,45.66 L340.60,45.15 L341.45,44.63 L342.31,44.12 L343.16,43.60 L344.01,43.09 L344.86,42.57 L345.72,42.06 L346.57,41.54 L347.42,41.03 L348.27,40.51 L349.13,40.00 L349.98,39.48 L350.83,38.97 L351.68,38.45 L352.54,37.94 L353.39,37.42 L354.24,36.91 L355.09,36.39 L355.95,35.88 L356.80,35.36 L357.65,34.85 L358.50,34.33 L359.36,33.81 L360.21,33.30 L361.06,32.78" stroke="#ff0000" stroke-width="1.9" stroke-dasharray="6.3 2.3"/>
<path d="M20.10,211.76 L20.95,211.76 L21.80,211.75 L22.66,211.73 L23.51,211.70 L24.36,211.67 L25.21,211.63 L26.07,211.58 L26.92,211.53 L27.77,211.47 L28.62,211.40 L29.48,211.33 L30.33,211.25 L31.18,211.16 L32.03,211.06 L32.89,210.96 L33.74,210.85 L34.59,210.73 L35.44,210.61 L36.30,210.48 L37.15,210.35 L38.00,210.20 L38.85,210.05 L39.71,209.90 L40.56,209.74 L41.41,209.57 L42.26,209.40 L43.11,209.22 L43.97,209.03 L44.82,208.84 L45.67,208.64 L46.52,208.44 L47.38,208.23 L48.23,208.02 L49.08,207.80 L49.93,207.57 L50.79,207.34 L51.64,207.11 L52.49,206.87 L53.34,206.62 L54.20,206.37 L55.05,206.11 L55.90,205.85 L56.75,205.59 L57.61,205.32 L58.46,205.04 L59.31,204.77 L60.16,204.48 L61.02,204.19 L61.87,203.90 L62.72,203.61 L63.57,203.31 L64.42,203.00 L65.28,202.69 L66.13,202.38 L66.98,202.07 L67.83,201.75 L68.69,201.42 L69.54,201.10 L70.39,200.77 L71.24,200.43 L72.10,200.10 L72.95,199.76 L73.80,199.41 L74.65,199.07 L75.51,198.72 L76.36,198.36 L77.21,198.01 L78.06,197.65 L78.92,197.29 L79.77,196.92 L80.62,196.56 L81.47,196.19 L82.33,195.81 L83.18,195.44 L84.03,195.06 L84.88,194.68 L85.73,194.30 L86.59,193.92 L87.44,193.53 L88.29,193.14 L89.14,192.75 L90.00,192.35 L90.85,191.96 L91.70,191.56 L92.55,191.16 L93.41,190.76 L94.26,190.35 L95.11,189.95 L95.96,189.54 L96.82,189.13 L97.67,188.72 L98.52,188.30 L99.37,187.89 L100.23,187.47 L101.08,187.05 L101.93,186.63 L102.78,186.21 L103.64,185.79 L104.49,185.36 L105.34,184.94 L106.19,184.51 L107.04,184.08 L107.90,183.65 L108.75,183.22 L109.60,182.78 L110.45,182.35 L111.31,181.91 L112.16,181.47 L113.01,181.03 L113.86,180.59 L114.72,180.15 L115.57,179.71 L116.42,179.26 L117.27,178.82 L118.13,178.37 L118.98,177.93 L119.83,177.48 L120.68,177.03 L121.54,176.58 L122.39,176.13 L123.24,175.67 L124.09,175.22 L124.95,174.77 L125.80,174.31 L126.65,173.85 L127.50,173.40 L128.35,172.94 L129.21,172.48 L130.06,172.02 L130.91,171.56 L131.76,171.09 L132.62,170.63 L133.47,170.17 L134.32,169.70 L135.17,169.24 L136.03,168.77 L136.88,168.31 L137.73,167.84 L138.58,167.37 L139.44,166.90 L140.29,166.43 L141.14,165.96 L141.99,165.49 L142.85,165.02 L143.70,164.55 L144.55,164.07 L145.40,163.60 L146.26,163.12 L147.11,162.65 L147.96,162.17 L148.81,161.70 L149.66,161.22 L150.52,160.74 L151.37,160.27 L152.22,159.79 L153.07,159.31 L153.93,158.83 L154.78,158.35 L155.63,157.87 L156.48,157.39 L157.34,156.90 L158.19,156.42 L159.04,155.94 L159.89,155.46 L160.75,154.97 L161.60,154.49 L162.45,154.00 L163.30,153.52 L164.16,153.03 L165.01,152.55 L165.86,152.06 L166.71,151.57 L167.57,151.08 L168.42,150.60 L169.27,150.11 L170.12,149.62 L170.97,149.13 L171.83,148.64 L172.68,148.15 L173.53,147.66 L174.38,147.17 L175.24,146.68 L176.09,146.19 L176.94,145.70 L177.79,145.20 L178.65,144.71 L179.50,144.22 L180.35,143.72 L181.20,143.23 L182.06,142.74 L182.91,142.24 L183.76,141.75 L184.61,141.25 L185.47,140.76 L186.32,140.26 L187.17,139.77 L188.02,139.27 L188.88,138.77 L189.73,138.28 L190.58,137.78 L191.43,137.28 L192.28,136.79 L193.14,136.29 L193.99,135.79 L194.84,135.29 L195.69,134.79 L196.55,134.29 L197.40,133.79 L198.25,133.30 L199.10,132.80 L199.96,132.30 L200.81,131.79 L201.66,131.29 L202.51,130.79 L203.37,130.29 L204.22,129.79 L205.07,129.29 L205.92,128.79 L206.78,128.29 L207.63,127.78 L208.48,127.28 L209.33,126.78 L210.19,126.28 L211.04,125.77 L211.89,125.27 L212.74,124.77 L213.59,124.26 L214.45,123.76 L215.30,123.25 L216.15,122.75 L217.00,122.25 L217.86,121.74 L218.71,121.24 L219.56,120.73 L220.41,120.23 L221.27,119.72 L222.12,119.21 L222.97,118.71 L223.82,118.20 L224.68,117.70 L225.53,117.19 L226.38,116.68 L227.23,116.18 L228.09,115.67 L228.94,115.16 L229.79,114.66 L230.64,114.15 L231.50,113.64 L232.35,113.13 L233.20,112.63 L234.05,112.12 L234.90,111.61 L235.76,111.10 L236.61,110.59 L237.46,110.08 L238.31,109.58 L239.17,109.07 L240.02,108.56 L240.87,108.05 L241.72,107.54 L242.58,107.03 L243.43,106.52 L244.28,106.01 L245.13,105.50 L245.99,104.99 L246.84,104.48 L247.69,103.97 L248.54,103.46 L249.40,102.95 L250.25,102.44 L251.10,101.93 L251.95,101.42 L252.81,100.90 L253.66,100.39 L254.51,99.88 L255.36,99.37 L256.21,98.86 L257.07,98.35 L257.92,97.84 L258.77,97.32 L259.62,96.81 L260.48,96.30 L261.33,95.79 L262.18,95.28 L263.03,94.76 L263.89,94.25 L264.74,93.74 L265.59,93.22 L266.44,92.71 L267.30,92.20 L268.15,91.69 L269.00,91.17 L269.85,90.66 L270.71,90.15 L271.56,89.63 L272.41,89.12 L273.26,88.60 L274.12,88.09 L274.97,87.58 L275.82,87.06 L276.67,86.55 L277.52,86.03 L278.38,85.52 L279.23,85.01 L280.08,84.49 L280.93,83.98 L281.79,83.46 L282.64,82.95 L283.49,82.43 L284.34,81.92 L285.20,81.40 L286.05,80.89 L286.90,80.37 L287.75,79.86 L288.61,79.34 L289.46,78.83 L290.31,78.31 L291.16,77.80 L292.02,77.28 L292.87,76.76 L293.72,76.25 L294.57,75.73 L295.43,75.22 L296.28,74.70 L297.13,74.18 L297.98,73.67 L298.83,73.15 L299.69,72.64 L300.54,72.12 L301.39,71.60 L302.24,71.09 L303.10,70.57 L303.95,70.05 L304.80,69.54 L305.65,69.02 L306.51,68.50 L307.36,67.99 L308.21,67.47 L309.06,66.95 L309.92,66.43 L310.77,65.92 L311.62,65.40 L312.47,64.88 L313.33,64.36 L314.18,63.85 L315.03,63.33 L315.88,62.81 L316.74,62.29 L317.59,61.78 L318.44,61.26 L319.29,60.74 L320.14,60.22 L321.00,59.71 L321.85,59.19 L322.70,58.67 L323.55,58.15 L324.41,57.63 L325.26,57.11 L326.11,56.60 L326.96,56.08 L327.82,55.56 L328.67,55.04 L329.52,54.52 L330.37,54.00 L331.23,53.48 L332.08,52.97 L332.93,52.45 L333.78,51.93 L334.64,51.41 L335.49,50.89 L336.34,50.37 L337.19,49.85 L338.05,49.33 L338.90,48.81 L339.75,48.30 L340.60,47.78 L341.45,47.26 L342.31,46.74 L343.16,46.22 L344.01,45.70 L344.86,45.18 L345.72,44.66 L346.57,44.14 L347.42,43.62 L348.27,43.10 L349.13,42.58 L349.98,42.06 L350.83,41.54 L351.68,41.02 L352.54,40.50 L353.39,39.98 L354.24,39.46 L355.09,38.94 L355.95,38.42 L356.80,37.90 L357.65,37.38 L358.50,36.86 L359.36,36.34 L360.21,35.82 L361.06,35.30" stroke="#ff0000" stroke-width="1.8" stroke-dasharray="3.0 2.44"/>
</g>
<g stroke="#000" stroke-width="2.2" fill="none">
<path d="M20.10,63.96 L20.10,277.60"/>
<path d="M19.00,276.50 L362.16,276.50"/>
</g>
<g stroke="#000" fill="none">
<path stroke-width="1.8" d="M41.41,276.50 L41.41,273.90"/>
<path stroke-width="1.8" d="M20.10,263.29 L22.70,263.29"/>
<path stroke-width="1.8" d="M62.72,276.50 L62.72,273.90"/>
<path stroke-width="1.8" d="M20.10,250.07 L22.70,250.07"/>
<path stroke-width="1.8" d="M84.03,276.50 L84.03,273.90"/>
<path stroke-width="1.8" d="M20.10,236.86 L22.70,236.86"/>
<path stroke-width="2.3" d="M105.34,276.50 L105.34,272.80"/>
<path stroke-width="2.3" d="M20.10,223.64 L23.80,223.64"/>
<path stroke-width="1.8" d="M126.65,276.50 L126.65,273.90"/>
<path stroke-width="1.8" d="M20.10,210.43 L22.70,210.43"/>
<path stroke-width="1.8" d="M147.96,276.50 L147.96,273.90"/>
<path stroke-width="1.8" d="M20.10,197.21 L22.70,197.21"/>
<path stroke-width="1.8" d="M169.27,276.50 L169.27,273.90"/>
<path stroke-width="1.8" d="M20.10,184.00 L22.70,184.00"/>
<path stroke-width="2.3" d="M190.58,276.50 L190.58,272.80"/>
<path stroke-width="2.3" d="M20.10,170.78 L23.80,170.78"/>
<path stroke-width="1.8" d="M211.89,276.50 L211.89,273.90"/>
<path stroke-width="1.8" d="M20.10,157.56 L22.70,157.56"/>
<path stroke-width="1.8" d="M233.20,276.50 L233.20,273.90"/>
<path stroke-width="1.8" d="M20.10,144.35 L22.70,144.35"/>
<path stroke-width="1.8" d="M254.51,276.50 L254.51,273.90"/>
<path stroke-width="1.8" d="M20.10,131.13 L22.70,131.13"/>
<path stroke-width="2.3" d="M275.82,276.50 L275.82,272.80"/>
<path stroke-width="2.3" d="M20.10,117.92 L23.80,117.92"/>
<path stroke-width="1.8" d="M297.13,276.50 L297.13,273.90"/>
<path stroke-width="1.8" d="M20.10,104.71 L22.70,104.71"/>
<path stroke-width="1.8" d="M318.44,276.50 L318.44,273.90"/>
<path stroke-width="1.8" d="M20.10,91.49 L22.70,91.49"/>
<path stroke-width="1.8" d="M339.75,276.50 L339.75,273.90"/>
<path stroke-width="1.8" d="M20.10,78.28 L22.70,78.28"/>
<path stroke-width="2.3" d="M361.06,276.50 L361.06,272.80"/>
<path stroke-width="2.3" d="M20.10,65.06 L23.80,65.06"/>
</g>
<g font-family="Liberation Sans, sans-serif" font-size="18" fill="#000" stroke="#000" stroke-width="0.25">
<text x="17.60" y="282.60" text-anchor="end">0</text>
<text x="17.60" y="229.74" text-anchor="end">2</text>
<text x="17.60" y="176.88" text-anchor="end">4</text>
<text x="17.60" y="124.02" text-anchor="end">6</text>
<text x="17.60" y="71.16" text-anchor="end">8</text>
<text x="20.10" y="296.90" text-anchor="middle">0</text>
<text x="105.34" y="296.90" text-anchor="middle">2</text>
<text x="190.58" y="296.90" text-anchor="middle">4</text>
<text x="275.82" y="296.90" text-anchor="middle">6</text>
<text x="361.06" y="296.90" text-anchor="middle">8</text>
</g>
<rect x="354.5" y="105" width="99.8" height="148.9" fill="#fff" stroke="#dedede" stroke-width="1"/>
<path d="M454.3,105 L454.3,253.9" stroke="#8c8c8c" stroke-width="0.9" fill="none"/>
<path d="M360,114.50 L402.7,114.50" stroke="#0000ff" stroke-width="2.5" fill="none"/>
<text x="411.5" y="119.10" font-family="Liberation Sans, sans-serif" font-size="14.3" font-weight="bold" fill="#000"><tspan font-style="italic">α</tspan>=0.2</text>
<path d="M360,139.40 L402.7,139.40" stroke="#0000ff" stroke-width="2.2" fill="none" stroke-dasharray="6.3 2.3"/>
<text x="411.5" y="144.00" font-family="Liberation Sans, sans-serif" font-size="14.3" font-weight="bold" fill="#000"><tspan font-style="italic">α</tspan>=0.5</text>
<path d="M360,164.30 L402.7,164.30" stroke="#0000ff" stroke-width="2.0" fill="none" stroke-dasharray="3.0 2.44"/>
<text x="411.5" y="168.90" font-family="Liberation Sans, sans-serif" font-size="14.3" font-weight="bold" fill="#000"><tspan font-style="italic">α</tspan>=10</text>
<path d="M360,189.20 L402.7,189.20" stroke="#ff0000" stroke-width="2.5" fill="none"/>
<text x="411.5" y="193.80" font-family="Liberation Sans, sans-serif" font-size="14.3" font-weight="bold" fill="#000"><tspan font-style="italic">α</tspan>=0.2</text>
<path d="M360,214.10 L402.7,214.10" stroke="#ff0000" stroke-width="2.2" fill="none" stroke-dasharray="6.3 2.3"/>
<text x="411.5" y="218.70" font-family="Liberation Sans, sans-serif" font-size="14.3" font-weight="bold" fill="#000"><tspan font-style="italic">α</tspan>=0.5</text>
<path d="M360,239.00 L402.7,239.00" stroke="#ff0000" stroke-width="2.0" fill="none" stroke-dasharray="3.0 2.44"/>
<text x="411.5" y="243.60" font-family="Liberation Sans, sans-serif" font-size="14.3" font-weight="bold" fill="#000"><tspan font-style="italic">α</tspan>=10</text>
<path stroke="#111" stroke-width="1.05" fill="none" stroke-linecap="round" d="M 15.93,40.37 C 13.70,43.15 12.22,50.37 15.93,50.56 C 18.89,50.56 20.93,46.85 21.67,43.70 C 21.11,47.41 21.48,50.56 23.70,50.56 C 27.41,50.56 30.74,45.00 28.52,40.00"/>
<path d="M28.75,40.1 C29.4,41.2 29.6,42.4 29.5,43.6" stroke="#111" stroke-width="1.8" fill="none" stroke-linecap="round"/>
<path d="M19.2,35.9 C20.4,33.2 22,33 23.3,34.4 C24.6,35.8 26.2,35.8 27.4,33" stroke="#111" stroke-width="1.1" fill="none" stroke-linecap="round"/>
<text x="374.2" y="286.4" font-family="Liberation Serif, serif" font-style="italic" font-size="28.4" fill="#222">p</text>
<path d="M378.2,268.8 C379.5,266 381.3,265.8 382.8,267.2 C384.3,268.6 386,268.6 387.4,265.8" stroke="#222" stroke-width="1.1" fill="none" stroke-linecap="round"/>
<g stroke="#ff0000" fill="none" stroke-linecap="round" stroke-linejoin="round">
<path stroke-width="1.15" d="M 135.54,94.61 C 133.94,97.47 133.71,104.46 136.69,104.46 C 138.98,104.46 140.59,101.48 141.16,98.96 C 140.82,102.06 141.05,104.46 142.99,104.46 C 145.63,104.46 147.69,99.19 146.55,94.15"/>
<path stroke-width="1.1" d="M 137.38,91.17 C 138.52,89.11 139.90,89.11 141.05,90.25 C 142.19,91.40 143.34,91.40 144.48,89.34"/>
<path stroke-width="1.9" d="M146.45,94.7 C146.9,95.8 147.1,97 146.9,98.2"/>
<path stroke-width="1.4" stroke-linecap="butt" d="M144.2,107.4 L153.1,107.4 M148.65,103.1 L148.65,111.7"/>
</g>
<g stroke="#0000ff" fill="none" stroke-linecap="round" stroke-linejoin="round">
<path stroke-width="1.5" d="M 293.52,158.09 C 290.89,161.75 289.74,170.69 293.52,170.92 C 296.62,170.92 298.34,166.91 299.03,164.05 C 298.34,167.48 298.34,170.92 300.86,170.92 C 304.64,170.92 308.08,164.05 306.36,157.86"/>
<path stroke-width="1.4" d="M 294.90,153.96 C 296.28,151.44 298.11,151.67 299.48,152.81 C 300.86,153.96 302.46,153.96 304.07,151.44"/>
<path stroke-width="2.2" d="M306.35,158.6 C307,160 307.4,161.8 307.1,163.6"/>
<path stroke-width="1.7" stroke-linecap="butt" d="M304.1,173.1 L312.1,173.1"/>
</g>
</svg>
</body></html>
